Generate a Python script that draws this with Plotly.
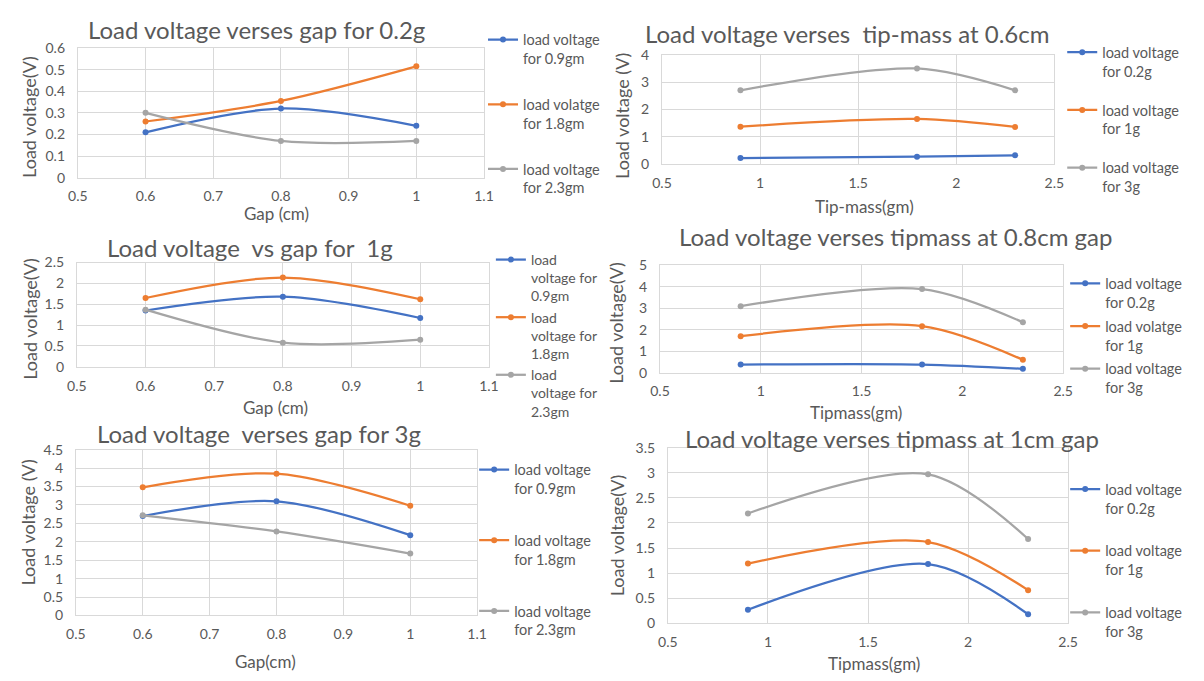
import plotly.graph_objects as go

W, H = 1204, 681

# ---------------- data ----------------
gap_x = [0.6, 0.8, 1.0]
tip_x = [0.9, 1.8, 2.3]

# Panel 1: Load voltage verses gap for 0.2g
p1_09gm = [0.21, 0.32, 0.24]
p1_18gm = [0.26, 0.355, 0.515]
p1_23gm = [0.30, 0.17, 0.17]

# Panel 2: Load voltage verses tip-mass at 0.6cm
p2_02g = [0.22, 0.27, 0.32]
p2_1g = [1.37, 1.65, 1.36]
p2_3g = [2.70, 3.50, 2.70]

# Panel 3: Load voltage vs gap for 1g
p3_09gm = [1.35, 1.68, 1.17]
p3_18gm = [1.65, 2.14, 1.62]
p3_23gm = [1.37, 0.58, 0.65]

# Panel 4: Load voltage verses tipmass at 0.8cm gap
p4_02g = [0.38, 0.38, 0.18]
p4_1g = [1.70, 2.17, 0.60]
p4_3g = [3.10, 3.90, 2.35]

# Panel 5: Load voltage verses gap for 3g
p5_09gm = [2.70, 3.10, 2.18]
p5_18gm = [3.48, 3.85, 2.98]
p5_23gm = [2.72, 2.28, 1.68]

# Panel 6: Load voltage verses tipmass at 1cm gap
p6_02g = [0.27, 1.18, 0.18]
p6_1g = [1.19, 1.62, 0.66]
p6_3g = [2.19, 2.97, 1.68]

titles = [
    "Load voltage verses gap for 0.2g",
    "Load voltage verses  tip-mass at 0.6cm",
    "Load voltage  vs gap for  1g",
    "Load voltage verses tipmass at 0.8cm gap",
    "Load voltage  verses gap for 3g",
    "Load voltage verses tipmass at 1cm gap",
]
xtitles = ["Gap (cm)", "Tip-mass(gm)", "Gap (cm)", "Tipmass(gm)", "Gap(cm)", "Tipmass(gm)"]
ytitles = ["Load voltage(V)", "Load voltage (V)", "Load voltage(V)",
           "Load voltage(V)", "Load voltage (V)", "Load voltage(V)"]

names1 = ["load voltage<br>for 0.9gm", "load volatge<br>for 1.8gm", "load voltage<br>for 2.3gm"]
names2 = ["load voltage<br>for 0.2g", "load voltage<br>for 1g", "load voltage<br>for 3g"]
names3 = ["load<br>voltage for<br>0.9gm", "load<br>voltage for<br>1.8gm", "load<br>voltage for<br>2.3gm"]
names4 = ["load voltage<br>for 0.2g", "load volatge<br>for 1g", "load voltage<br>for 3g"]
names5 = ["load voltage<br>for 0.9gm", "load voltage<br>for 1.8gm", "load voltage<br>for 2.3gm"]
names6 = ["load voltage<br>for 0.2g", "load voltage<br>for 1g", "load voltage<br>for 3g"]

colors = ["#4472C4", "#ED7D31", "#A5A5A5"]
TXT = "#595959"
GRID = "#D9D9D9"
FONT = "Lato"

# ---------------- layout geometry (pixels) ----------------
panels = [
    dict(x=gap_x, ys=[p1_09gm, p1_18gm, p1_23gm], names=names1,
         box=(69, 482, 40, 173), xr=[0.5, 1.1], xd=0.1, yr=[0, 0.6], yd=0.1,
         title_xy=(251, 21), xt_xy=(271, 210), yt_xy=(20, 111),
         leg_xy=(481, 15), leg_gap=24, leg_font=14.5),
    dict(x=tip_x, ys=[p2_02g, p2_1g, p2_3g], names=names2,
         box=(663, 1062, 47, 159), xr=[0.5, 2.5], xd=0.5, yr=[0, 4], yd=1,
         title_xy=(851, 25), xt_xy=(869, 203), yt_xy=(623, 110),
         leg_xy=(1070, 28), leg_gap=17, leg_font=14.5),
    dict(x=gap_x, ys=[p3_09gm, p3_18gm, p3_23gm], names=names3,
         box=(68, 487, 260, 367), xr=[0.5, 1.1], xd=0.1, yr=[0, 2.5], yd=0.5,
         title_xy=(244, 245), xt_xy=(270, 409), yt_xy=(20, 318),
         leg_xy=(489, 241), leg_gap=0, leg_font=14),
    dict(x=tip_x, ys=[p4_02g, p4_1g, p4_3g], names=names4,
         box=(661, 1071, 263, 373), xr=[0.5, 2.5], xd=0.5, yr=[0, 5], yd=1,
         title_xy=(900, 233), xt_xy=(860, 414), yt_xy=(616, 322),
         leg_xy=(1073, 265), leg_gap=2, leg_font=14.5),
    dict(x=gap_x, ys=[p5_09gm, p5_18gm, p5_23gm], names=names5,
         box=(67, 475, 452, 622), xr=[0.5, 1.1], xd=0.1, yr=[0, 4.5], yd=0.5,
         title_xy=(253, 435), xt_xy=(260, 669), yt_xy=(18, 527),
         leg_xy=(472, 456), leg_gap=30, leg_font=14.5),
    dict(x=tip_x, ys=[p6_02g, p6_1g, p6_3g], names=names6,
         box=(669, 1076, 450, 630), xr=[0.5, 2.5], xd=0.5, yr=[0, 3.5], yd=0.5,
         title_xy=(897, 440), xt_xy=(879, 671), yt_xy=(617, 540),
         leg_xy=(1073, 476), leg_gap=21, leg_font=14.5),
]

fig = go.Figure()
annotations = []

for i, p in enumerate(panels):
    k = i + 1
    xa = "x" if k == 1 else f"x{k}"
    ya = "y" if k == 1 else f"y{k}"
    lg = "legend" if k == 1 else f"legend{k}"
    for j in range(3):
        fig.add_trace(go.Scatter(
            x=p["x"], y=p["ys"][j], name=p["names"][j],
            mode="lines+markers",
            line=dict(color=colors[j], width=2.25, shape="spline", smoothing=0.9),
            marker=dict(color=colors[j], size=6),
            xaxis=xa, yaxis=ya, legend=lg, legendgroup=f"g{k}_{j}",
        ))
    x0, x1, y0, y1 = p["box"]
    axkw = dict(showgrid=True, gridcolor=GRID, gridwidth=1, showline=True, linecolor=GRID,
                linewidth=1, mirror=True, zeroline=False, ticks="",
                tickfont=dict(family=FONT, size=14, color=TXT), fixedrange=True)
    fig.update_layout(**{
        ("xaxis" if k == 1 else f"xaxis{k}"): dict(
            domain=[x0 / W, x1 / W], range=p["xr"], dtick=p["xd"], tick0=0,
            anchor=ya, ticklabelstandoff=6, **axkw),
        ("yaxis" if k == 1 else f"yaxis{k}"): dict(
            domain=[1 - y1 / H, 1 - y0 / H], range=p["yr"], dtick=p["yd"], tick0=0,
            anchor=xa, ticklabelstandoff=9, **axkw),
        lg: dict(x=p["leg_xy"][0] / W, y=1 - p["leg_xy"][1] / H, xanchor="left", yanchor="top",
                 xref="paper", yref="paper", valign="top",
                 font=dict(family=FONT, size=p["leg_font"], color=TXT), bgcolor="rgba(0,0,0,0)",
                 tracegroupgap=p["leg_gap"], itemwidth=30, traceorder="grouped"),
    })
    tx, ty = p["title_xy"]
    annotations.append(dict(text=titles[i], x=tx / W, y=1 - ty / H, xref="paper", yref="paper",
                            showarrow=False, xanchor="center", yanchor="middle",
                            font=dict(family=FONT, size=24, color=TXT)))
    tx, ty = p["xt_xy"]
    annotations.append(dict(text=xtitles[i], x=tx / W, y=1 - ty / H, xref="paper", yref="paper",
                            showarrow=False, xanchor="center", yanchor="middle",
                            font=dict(family=FONT, size=17, color=TXT)))
    tx, ty = p["yt_xy"]
    annotations.append(dict(text=ytitles[i], x=tx / W, y=1 - ty / H, xref="paper", yref="paper",
                            showarrow=False, xanchor="center", yanchor="middle", textangle=-90,
                            font=dict(family=FONT, size=18, color=TXT)))

fig.update_layout(
    width=W, height=H, margin=dict(l=0, r=0, t=0, b=0),
    paper_bgcolor="white", plot_bgcolor="white",
    showlegend=True, annotations=annotations,
    font=dict(family=FONT, color=TXT),
)

fig.write_html("out.html", config={"displayModeBar": False})
